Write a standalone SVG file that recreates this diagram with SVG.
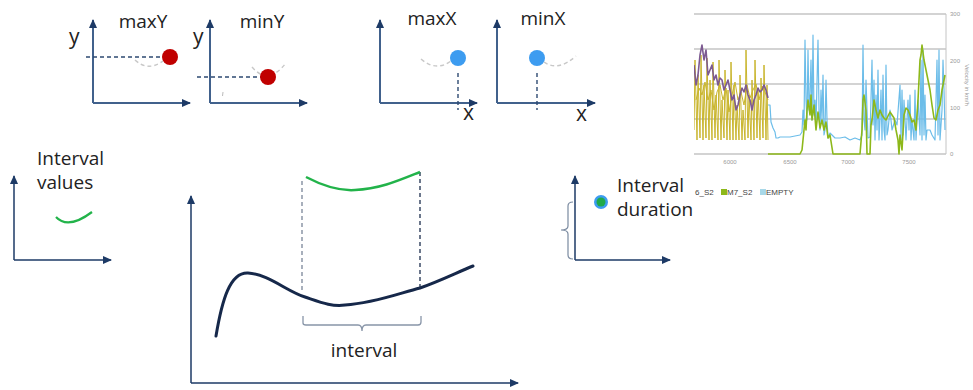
<svg xmlns="http://www.w3.org/2000/svg" width="973" height="390" viewBox="0 0 973 390">
<defs>
<marker id="arr" markerUnits="userSpaceOnUse" markerWidth="9" markerHeight="8" refX="8" refY="4" orient="auto">
<path d="M0,0 L9,4 L0,8 z" fill="#1d3a66"/>
</marker>
<clipPath id="plot"><rect x="694" y="10" width="252" height="145"/></clipPath>
<style>
.ax{stroke:#41618c;stroke-width:2;fill:none;marker-end:url(#arr)}
.ax2{stroke:#1d3a66;stroke-width:1.5;fill:none;marker-end:url(#arr)}
.lbl{font-family:"Open Sans","Liberation Sans",sans-serif;font-size:19px;fill:#222}
.xy{font-family:"Open Sans","Liberation Sans",sans-serif;font-size:21px;fill:#222}
.dash{stroke:#2e4a72;stroke-width:1.4;stroke-dasharray:4,3;fill:none}
.ghost{stroke:#c8c8c8;stroke-width:1.4;stroke-dasharray:4,3;fill:none}
.grid{stroke:#c4c4c4;stroke-width:1.5}
.tick{font-family:"Liberation Sans",sans-serif;font-size:6px;fill:#999}
.leg{font-family:"Liberation Sans",sans-serif;font-size:8px;fill:#444}
</style>
</defs>
<rect width="973" height="390" fill="#ffffff"/>

<g id="maxY">
<line class="ax" x1="93" y1="103" x2="93" y2="20"/>
<line class="ax" x1="93" y1="103" x2="190" y2="103"/>
<text class="xy" x="69" y="44">y</text>
<text class="lbl" x="143" y="28" text-anchor="middle">maxY</text>
<line class="dash" x1="86" y1="57" x2="163" y2="57"/>
<path class="ghost" d="M135,60 Q148,72 163,61"/>
<circle cx="170" cy="57" r="8" fill="#c00000"/>
</g>

<g id="minY">
<line class="ax" x1="210" y1="103" x2="210" y2="20"/>
<line class="ax" x1="210" y1="103" x2="307" y2="103"/>
<text class="xy" x="193" y="44">y</text>
<text class="lbl" x="262" y="28" text-anchor="middle">minY</text>
<line class="dash" x1="197" y1="77" x2="261" y2="77"/>
<path class="ghost" d="M252,67 Q268,86 286,63"/>
<circle cx="268" cy="77" r="8" fill="#c00000"/>
<line x1="223" y1="92" x2="222.5" y2="96" stroke="#bbb" stroke-width="1"/>
</g>

<g id="maxX">
<line class="ax" x1="380" y1="103" x2="380" y2="20"/>
<line class="ax" x1="380" y1="103" x2="477" y2="103"/>
<text class="lbl" x="432" y="25" text-anchor="middle">maxX</text>
<path class="ghost" d="M421,59 Q436,72 451,61"/>
<line class="dash" x1="458" y1="73" x2="458" y2="110"/>
<circle cx="458" cy="58" r="8" fill="#3d9cf0"/>
<text class="xy" x="463" y="120">x</text>
</g>

<g id="minX">
<line class="ax" x1="497" y1="103" x2="497" y2="20"/>
<line class="ax" x1="497" y1="103" x2="595" y2="103"/>
<text class="lbl" x="543" y="25" text-anchor="middle">minX</text>
<path class="ghost" d="M544,62 Q558,72 576,56"/>
<line class="dash" x1="537" y1="73" x2="537" y2="110"/>
<circle cx="537" cy="58" r="8" fill="#3d9cf0"/>
<text class="xy" x="576" y="121">x</text>
</g>

<g id="interval-values">
<line class="ax2" x1="14" y1="260" x2="14" y2="176"/>
<line class="ax2" x1="14" y1="260" x2="111" y2="260"/>
<text class="lbl" x="37" y="165">Interval</text>
<text class="lbl" x="37" y="189">values</text>
<path d="M56,217 Q68,230 92,212" stroke="#22b34a" stroke-width="2.2" fill="none"/>
</g>

<g id="main-chart">
<line class="ax2" x1="191" y1="383" x2="191" y2="196"/>
<line class="ax2" x1="191" y1="383" x2="518" y2="383"/>
<path d="M216,336 C222,300 230,272 248,273 C268,274 288,292 305,297 C320,302 332,307 345,305 C375,303 400,293 420,288 C440,281 458,272 473,266" stroke="#16284a" stroke-width="3" fill="none" stroke-linecap="round"/>
<line x1="302" y1="181" x2="302" y2="293" stroke="#7a8699" stroke-width="1.3" stroke-dasharray="4,3"/>
<line x1="420" y1="172" x2="420" y2="288" stroke="#1d2f4f" stroke-width="1.3" stroke-dasharray="4,3"/>
<path d="M306,177 C325,187 340,191 355,190 C380,189 400,180 420,172" stroke="#22b34a" stroke-width="2.5" fill="none"/>
<path d="M303,316 V323 Q303,325 306,325 H358 Q362,325 362,331 Q362,325 366,325 H418 Q421,325 421,322 V316" stroke="#8895a8" stroke-width="1.3" fill="none"/>
<text class="lbl" x="364" y="357" text-anchor="middle">interval</text>
</g>

<g id="interval-duration">
<line class="ax2" x1="575" y1="260" x2="575" y2="176"/>
<line class="ax2" x1="575" y1="260" x2="670" y2="260"/>
<path d="M573,202 Q568,202 568,206 V226 Q568,230 561,230 Q568,230 568,234 V255 Q568,259 573,259" stroke="#7a8aa0" stroke-width="1.2" fill="none"/>
<circle cx="601" cy="202" r="7" fill="#3d9cf0"/>
<circle cx="601" cy="202" r="4.5" fill="#1faa4a"/>
<text class="lbl" x="617" y="192">Interval</text>
<text class="lbl" x="617" y="216">duration</text>
</g>

<g id="velocity-chart">
<line class="grid" x1="694" y1="14" x2="946" y2="14"/>
<line class="grid" x1="694" y1="49" x2="946" y2="49"/>
<line class="grid" x1="694" y1="84" x2="946" y2="84"/>
<line class="grid" x1="694" y1="119" x2="946" y2="119"/>
<line class="grid" x1="694" y1="154" x2="946" y2="154"/>
<line x1="946" y1="14" x2="946" y2="154" stroke="#c4c4c4" stroke-width="1"/>
<g clip-path="url(#plot)" fill="none" stroke-linejoin="round">
<polyline stroke="#c9b52c" stroke-width="1" points="694,130 695,60 697,140 698,75 700,138 701,55 703,140 704,85 706,138 707,58 709,140 710,80 712,140 713,62 715,138 716,95 718,140 719,60 721,140 722,100 724,138 725,70 727,140 728,90 730,140 731,62 733,140 734,85 736,140 737,105 739,140 740,75 742,140 743,110 745,140 746,50 748,138 749,95 751,140 752,80 754,140 755,60 757,138 758,90 760,140 761,78 763,138 764,65 766,140 767,85 768,140"/>
<polyline stroke="#c9b52c" stroke-width="1" points="696,100 699,88 702,95 705,82 708,100 711,90 714,110 717,92 720,85 723,100 726,88 729,112 732,95 735,82 738,100 741,92 744,105 747,85 750,98 753,90 756,84 759,100 762,86 765,92 768,100"/>
<polyline stroke="#7d5a91" stroke-width="1.6" points="694,65 696,85 698,75 700,55 702,45 704,60 706,50 708,75 710,70 712,65 714,80 716,75 718,85 720,78 722,80 724,90 726,85 728,80 730,90 732,100 734,95 736,110 738,105 740,95 742,88 744,92 746,85 748,95 750,100 752,110 754,100 756,95 758,88 760,92 762,90 764,85 766,90 768,98"/>
<polyline stroke="#6cbde9" stroke-width="1.2" points="768,105 770,105 771,122 773,128 775,132 776,138 778,138 780,137 785,137 790,137 795,136 800,135 802,132 803,110 804,125 805,40 806,100 807,120 808,50 809,110 810,95 811,60 812,120 813,35 814,115 815,100 816,125 818,40 819,110 820,130 821,90 822,120 823,75 824,135 825,130 826,80 827,120 828,138 830,133 835,138 840,138 845,137 850,140 855,138 860,140 862,135 863,45 864,120 865,130 866,80 867,110 868,138 870,137 872,60 873,125 874,80 875,140 876,95 877,130 878,70 879,140 880,120 881,90 882,140 883,75 884,130 885,140 886,65 887,135 888,130 889,120 890,110 892,130 895,120 897,125 900,85 901,140 902,90 903,135 904,100 905,120 906,140 908,100 909,130 910,95 911,140 912,120 914,140 915,90 916,140 918,100 920,135 921,60 922,140 923,50 924,135 925,95 926,140 927,130 930,130 932,135 935,140 937,60 938,135 939,50 940,140 942,110 943,60 944,90 945,130"/>
<polyline stroke="#8db81a" stroke-width="1.6" points="768,154 800,154 802,150 803,140 805,120 806,130 807,110 808,100 810,115 811,95 812,120 814,105 816,130 818,112 820,128 822,120 824,130 826,122 828,138 830,135 833,154 845,154 860,154 862,130 863,100 864,95 866,110 867,154 870,154 871,125 872,120 874,100 876,110 878,118 880,110 882,115 884,118 886,120 890,112 892,115 894,118 896,130 898,140 899,154 900,135 902,150 904,115 906,108 908,110 910,115 912,122 914,120 916,130 918,100 920,60 921,55 922,45 924,60 926,70 928,80 930,90 932,105 934,118 936,120 938,110 940,105 942,90 944,80 945,75"/>
</g>
<text class="tick" x="950" y="16">300</text>
<text class="tick" x="950" y="63">200</text>
<text class="tick" x="950" y="110">100</text>
<text class="tick" x="950" y="156">0</text>
<text class="tick" x="730" y="164" text-anchor="middle">6000</text>
<text class="tick" x="790" y="164" text-anchor="middle">6500</text>
<text class="tick" x="848" y="164" text-anchor="middle">7000</text>
<text class="tick" x="909" y="164" text-anchor="middle">7500</text>
<text class="tick" transform="translate(965,85) rotate(90)" text-anchor="middle" font-size="7">Velocity in km/h</text>
<text class="leg" x="695" y="195">6_S2</text>
<rect x="721" y="189" width="6" height="6" fill="#8db81a"/>
<text class="leg" x="727" y="195">M7_S2</text>
<rect x="760" y="189" width="6" height="6" fill="#a8d8e8"/>
<text class="leg" x="766" y="195">EMPTY</text>
</g>
</svg>
